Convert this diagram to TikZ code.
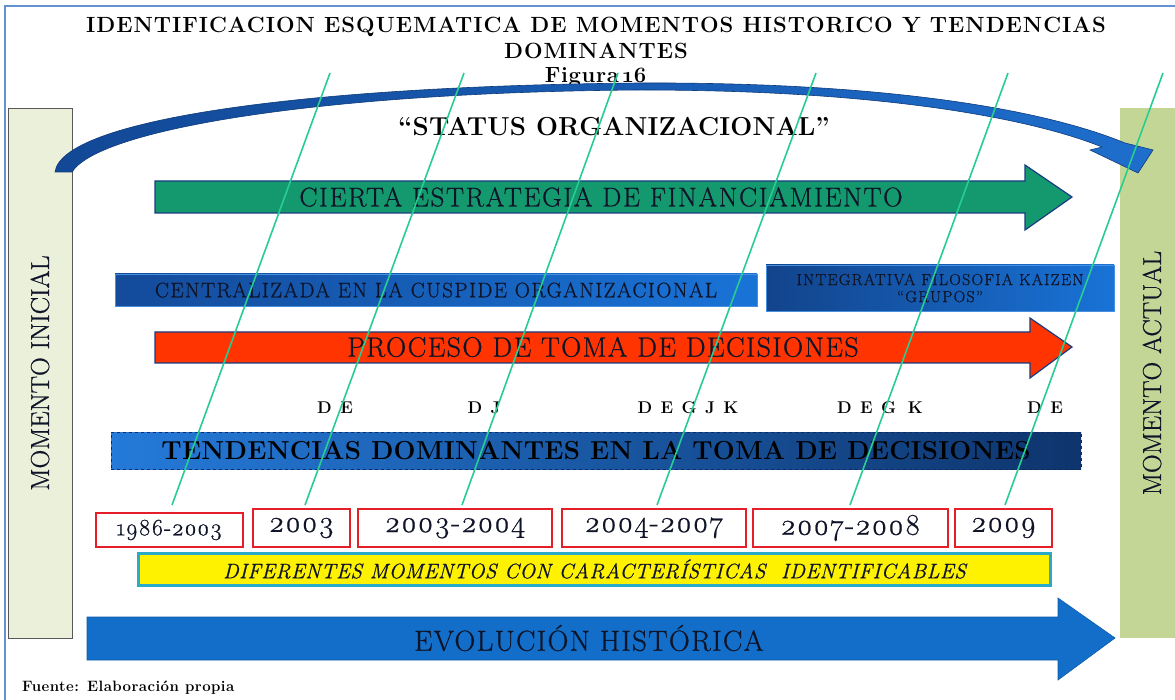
\documentclass[tikz,border=0pt]{standalone}
\usepackage{fontspec}
\setmainfont{Latin Modern Roman}
\newfontfamily\osf{Latin Modern Roman}[Numbers=OldStyle]

\definecolor{frameblue}{RGB}{100,145,210}
\definecolor{inibg}{RGB}{235,240,218}
\definecolor{actbg}{RGB}{196,214,150}
\definecolor{navy}{RGB}{25,60,130}
\definecolor{arcA}{RGB}{18,72,150}
\definecolor{arcB}{RGB}{30,110,205}
\definecolor{tealfill}{RGB}{20,152,110}
\definecolor{redfill}{RGB}{255,52,0}
\definecolor{boxdark}{RGB}{20,75,155}
\definecolor{boxlight}{RGB}{25,115,215}
\definecolor{evofill}{RGB}{18,110,200}
\definecolor{lineg}{RGB}{40,205,145}
\definecolor{cyanb}{RGB}{40,170,200}
\definecolor{yearred}{RGB}{230,30,40}
\definecolor{inktext}{RGB}{15,20,40}

\tikzset{
  % size, letter spacing and a little extra stroke weight
  fs/.style 2 args={font=\fontsize{#1}{#1}\selectfont\addfontfeature{LetterSpace=#2,FakeBold=0.7}},
  fsb/.style 2 args={font=\bfseries\fontsize{#1}{#1}\selectfont\addfontfeature{LetterSpace=#2}},
  fsi/.style 2 args={font=\itshape\fontsize{#1}{#1}\selectfont\addfontfeature{LetterSpace=#2,FakeBold=0.6}},
  fso/.style 2 args={font=\osf\fontsize{#1}{#1}\selectfont\addfontfeature{LetterSpace=#2,FakeBold=0.7}},
  txt/.style={inner sep=0pt, text=inktext},
  sidebox/.style={draw=gray!70!black, line width=0.6pt, minimum width=64pt, minimum height=530pt},
  blockarrow/.style={draw=navy, line width=1.2pt, line join=miter},
  bluebox/.style={left color=boxdark, right color=boxlight, draw=boxlight!80!white, line width=0.6pt},
  yearbox/.style={draw=yearred, line width=1.2pt, fill=white, inner sep=0pt, text=inktext},
  timeline/.style={draw=lineg, line width=1.6pt},
  letters/.style={txt, text=black, fsb={17}{12}},
}

\begin{document}
\begin{tikzpicture}[x=1pt,y=-1pt]
\useasboundingbox (0,0) rectangle (1175,700);
\fill[white] (0,0) rectangle (1175,700);
% outer frame
\draw[frameblue, line width=2.5pt] (5,6) rectangle (1200,720);

% titles
\node[txt, text=black, fsb={22}{4.5}] (t1) at (596,27) {IDENTIFICACION ESQUEMATICA DE MOMENTOS HISTORICO Y TENDENCIAS};
\node[txt, text=black, fsb={22}{4.5}] (t2) at (596,51) {DOMINANTES};
\node[txt, text=black, fsb={22}{3}] (t3) at (596,77) {Figura\,{\osf 16}};
\node[txt, text=black, fsb={26}{0.5}] (status) at (614,127) {“STATUS ORGANIZACIONAL”};

% side boxes
\node[sidebox, fill=inibg] (inibox) at (40,373) {};
\node[txt, rotate=90, fs={26}{0}] (ini) at (inibox.center) {MOMENTO INICIAL};
\node[sidebox, fill=actbg, draw=none] (actbox) at (1152,373) {};
\node[txt, rotate=90, fs={26}{0}] (act) at (actbox.center) {MOMENTO ACTUAL};

% curved arrow over the top
\path[left color=arcA, right color=arcB, draw=arcA!80!black, line width=0.6pt]
  (55,172) .. controls (62,120) and (300,86) .. (640,83)
  .. controls (880,82) and (1040,108) .. (1125,143)
  -- (1153,150) -- (1138,173) -- (1090,150) -- (1102,147)
  .. controls (1030,118) and (880,90) .. (640,90)
  .. controls (330,92) and (100,128) .. (72,172) -- cycle;

% financing arrow
\draw[blockarrow, fill=tealfill] (155,181) -- (1025,181) -- (1025,165) -- (1072,197)
  -- (1025,230) -- (1025,213) -- (155,213) -- cycle;
\node[txt, fs={27}{6}] (fin) at (601,197) {CIERTA ESTRATEGIA DE FINANCIAMIENTO};

% decision styles
\node[bluebox, minimum width=642pt, minimum height=32pt] (cent) at (436,290) {};
\node[txt, fs={21}{7}] (centt) at (cent.center) {CENTRALIZADA EN LA CUSPIDE ORGANIZACIONAL};
\node[bluebox, left color=boxdark!90!black, right color=boxlight, minimum width=348pt, minimum height=46pt] (kai) at (940,288) {};
\node[txt, fs={16}{8}, align=center] (kait) at (kai.center) {INTEGRATIVA FILOSOFIA KAIZEN\\[1pt]“GRUPOS”};

% decision process arrow
\draw[blockarrow, fill=redfill] (155,332) -- (1030,332) -- (1030,318) -- (1072,347)
  -- (1030,378) -- (1030,363) -- (155,363) -- cycle;
\node[txt, fs={28}{5}] (proc) at (603,347) {PROCESO DE TOMA DE DECISIONES};

% dominant trend letters
\node[letters] (l1) at (335,408) {D E};
\node[letters] (l2) at (484,408) {D J};
\node[letters] (l3) at (688,408) {D E G J K};
\node[letters] (l4) at (880,408) {D E G\hspace{0.7em}K};
\node[letters] (l5) at (1045,408) {D E};

% trends bar
\node[left color=boxlight!95!white, right color=boxdark!70!black, draw=navy!70!black, dashed, line width=0.8pt,
      minimum width=970pt, minimum height=37pt] (trend) at (596,450.5) {};
\node[txt, text=black, fsb={26}{1}] (trendt) at (trend.center) {TENDENCIAS DOMINANTES EN LA TOMA DE DECISIONES};

% period boxes
\node[yearbox, minimum width=147pt, minimum height=34pt, fso={23.5}{2}] (y1) at (169.5,530) {1986-2003};
\node[yearbox, minimum width=97pt, minimum height=38pt, fso={30}{3}] (y2) at (301.5,528) {2003};
\node[yearbox, minimum width=194pt, minimum height=38pt, fso={30}{3}] (y3) at (455,528) {2003-2004};
\node[yearbox, minimum width=184pt, minimum height=38pt, fso={30}{3}] (y4) at (654,528) {2004-2007};
\node[yearbox, minimum width=195pt, minimum height=38pt, fso={30}{3}] (y5) at (850.5,528) {2007-2008};
\node[yearbox, minimum width=97pt, minimum height=38pt, fso={30}{3}] (y6) at (1003.5,528) {2009};

% moments strip
\node[fill=yellow, draw=cyanb, line width=3pt, minimum width=912pt, minimum height=32pt] (mom) at (594.5,569) {};
\node[txt, fsi={21}{2}] (momt) at (mom.center) {DIFERENTES MOMENTOS CON CARACTERÍSTICAS\ \ IDENTIFICABLES};

% historical evolution arrow
\draw[draw=evofill!85!black, line width=0.6pt, fill=evofill] (87,617) -- (1058,617) -- (1058,598) -- (1115,638)
  -- (1058,680) -- (1058,660) -- (87,660) -- cycle;
\node[txt, fs={29}{4.5}] (evo) at (589,638) {EVOLUCIÓN HISTÓRICA};

% source note
\node[txt, text=black, anchor=west, fsb={15}{3}] (src) at (22,688) {Fuente: Elaboración propia};

% time lines
\coordinate (a1) at (330,73);  \coordinate (b1) at (172,505);
\coordinate (a2) at (464,73);  \coordinate (b2) at (305,505);
\coordinate (a3) at (618,73);  \coordinate (b3) at (462,505);
\coordinate (a4) at (816,73);  \coordinate (b4) at (657,505);
\coordinate (a5) at (1008,73); \coordinate (b5) at (850,505);
\coordinate (a6) at (1163,73); \coordinate (b6) at (1005,505);
\foreach \i in {1,...,6} \draw[timeline] (a\i) -- (b\i);
\end{tikzpicture}
\end{document}
